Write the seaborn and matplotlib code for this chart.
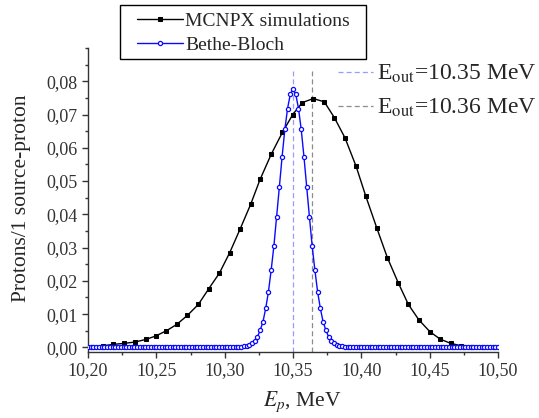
import numpy as np
import matplotlib
matplotlib.use("Agg")
import matplotlib.pyplot as plt
import seaborn as sns
from matplotlib.ticker import MultipleLocator, FuncFormatter
from matplotlib.lines import Line2D
from matplotlib.patches import Rectangle

# ---- data ----
mc_E = [10.2035, 10.2112, 10.2185, 10.2263, 10.2344, 10.2424, 10.2494, 10.2574,
        10.2649, 10.2727, 10.2807, 10.2883, 10.2961, 10.3037, 10.3112, 10.3190,
        10.3259, 10.3341, 10.3422, 10.3498, 10.3568, 10.3649, 10.3729, 10.3802,
        10.3880, 10.3961, 10.4032, 10.4112, 10.4190, 10.4270, 10.4344, 10.4422,
        10.4502, 10.4576, 10.4654, 10.4729, 10.4806]
mc_y = [0.0002, 0.0005, 0.0009, 0.0012, 0.0016, 0.0024, 0.0034, 0.0050,
        0.0069, 0.0096, 0.0129, 0.0176, 0.0223, 0.0285, 0.0355, 0.0430,
        0.0505, 0.0581, 0.0646, 0.0700, 0.0736, 0.0748, 0.0738, 0.0691,
        0.0630, 0.0545, 0.0455, 0.0360, 0.0270, 0.0194, 0.0129, 0.0082,
        0.0047, 0.0025, 0.0012, 0.0005, 0.0002]

bb_E = np.round(np.arange(10.200, 10.5001, 0.002), 3)      # 151 grid energies
bb_peak = [0.0001, 0.0002, 0.0003, 0.0005, 0.0007, 0.0012, 0.0019, 0.0032,
           0.0052, 0.0077, 0.0117, 0.0167, 0.0232, 0.0305, 0.0392, 0.0482,
           0.0573, 0.0655, 0.0718, 0.0761, 0.0776, 0.0761, 0.0718, 0.0655,
           0.0573, 0.0482, 0.0392, 0.0305, 0.0232, 0.0167, 0.0117, 0.0077,
           0.0052, 0.0032, 0.0019, 0.0012, 0.0007, 0.0005, 0.0003, 0.0002,
           0.0001]
bb_y = [0.0] * 55 + bb_peak + [0.0] * 55

e_out = [10.35, 10.364]
e_out_labels = [r"E$_{\mathrm{out}}$=10.35 MeV", r"E$_{\mathrm{out}}$=10.36 MeV"]
x_ticks = [10.20, 10.25, 10.30, 10.35, 10.40, 10.45, 10.50]
y_ticks = [0.00, 0.01, 0.02, 0.03, 0.04, 0.05, 0.06, 0.07, 0.08]

# ---- style ----
sns.set_style("ticks")
plt.rcParams["font.family"] = ["Liberation Serif", "DejaVu Serif"]
plt.rcParams["mathtext.fontset"] = "stix"

fig = plt.figure(figsize=(5.39, 4.18), dpi=100)
ax = fig.add_axes([0.1633, 0.1586, 0.7607, 0.7266])

ymin, ymax = -0.0013, 0.09
ax.vlines(e_out, ymin, 0.083, colors=["#9a9aff", "#8c8c8c"],
          linestyles=[(0, (4, 2.5)), (0, (4, 2.5))], linewidth=0.9, zorder=1)

sns.lineplot(x=mc_E, y=mc_y, ax=ax, color="black", linewidth=1.0,
             marker="s", markersize=3.4, markeredgecolor="black",
             markerfacecolor="black", label="MCNPX simulations", sort=False, zorder=3)
sns.lineplot(x=bb_E, y=bb_y, ax=ax, color="#0a0aff", linewidth=1.0,
             marker="o", markersize=3.0, markerfacecolor="white",
             markeredgecolor="#0a0aff", markeredgewidth=0.9,
             label="Bethe-Bloch", sort=False, zorder=4)

ax.set_xlim(10.20, 10.50)
ax.set_ylim(ymin, ymax)
ax.set_xticks(x_ticks)
ax.set_yticks(y_ticks)
ax.xaxis.set_minor_locator(MultipleLocator(0.025))
ax.yaxis.set_minor_locator(MultipleLocator(0.005))
ax.xaxis.set_major_formatter(FuncFormatter(lambda v, p: f"{v:.2f}".replace(".", ",")))
ax.yaxis.set_major_formatter(FuncFormatter(lambda v, p: f"{v:.2f}".replace(".", ",")))
ax.tick_params(axis="both", which="major", direction="out", length=4, width=1,
               labelsize=13, colors="#333333", labelcolor="#333333")
ax.tick_params(axis="both", which="minor", direction="out", length=2.5, width=1,
               colors="#333333")
for s in ["top", "right"]:
    ax.spines[s].set_visible(False)
for s in ["left", "bottom"]:
    ax.spines[s].set_color("#333333")
    ax.spines[s].set_linewidth(1.0)

ax.set_xlabel(r"$E_p$, MeV", fontsize=15.5)
ax.set_ylabel("Protons/1 source-proton", fontsize=15.5)
ax.xaxis.set_label_coords(0.522, -0.125)
ax.yaxis.set_label_coords(-0.138, 0.505)

# main legend (frame drawn as a separate box like the reference)
leg = ax.legend(loc="upper left", bbox_to_anchor=(137 / 539, 1 - 12.5 / 418),
                bbox_transform=fig.transFigure, fontsize=14, frameon=False,
                handlelength=2.37, handletextpad=0.12, borderpad=0,
                labelspacing=0.32, borderaxespad=0)
fig.patches.append(Rectangle((120 / 539, 1 - 59 / 418), 246 / 539, 54 / 418,
                             transform=fig.transFigure, fill=False,
                             edgecolor="black", linewidth=1.0, zorder=5))

h_out = [Line2D([], [], color="#9a9aff", linestyle=(0, (4, 2.5)), linewidth=0.9),
         Line2D([], [], color="#8c8c8c", linestyle=(0, (4, 2.5)), linewidth=0.9)]
leg2 = fig.legend(h_out, e_out_labels, loc="upper left",
                  bbox_to_anchor=(338 / 539, 1 - 63 / 418), fontsize=17,
                  frameon=False, handlelength=1.48, handletextpad=0.17,
                  labelspacing=0.5, borderpad=0, borderaxespad=0)

fig.savefig("out.png", dpi=100)
